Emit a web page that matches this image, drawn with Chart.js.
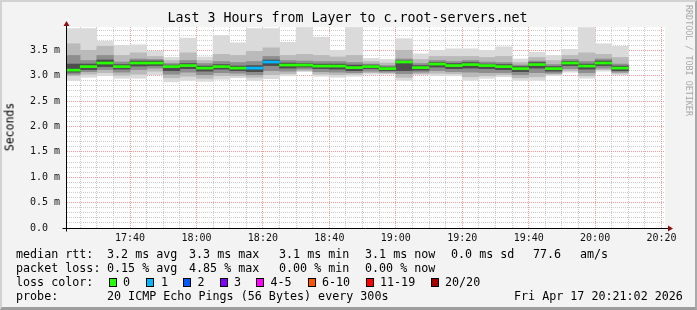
<!DOCTYPE html>
<html>
<head>
<meta charset="utf-8">
<script src="https://cdn.jsdelivr.net/npm/chart.js@4/dist/chart.umd.min.js"></script>
<style>
  html, body { margin: 0; padding: 0; background: #f3f3f3; }
  #frame { position: absolute; left: 0; top: 0; width: 697px; height: 310px; box-sizing: border-box;
           background: #f3f3f3; border-top: 2px solid #d2d2d2; border-left: 2px solid #d2d2d2;
           border-right: 2px solid #a9a9a9; border-bottom: 3px solid #9d9d9d; }
  #c { position: absolute; left: 0; top: 0; }
  .t { position: absolute; font-family: "DejaVu Sans Mono", monospace; color: #000; white-space: pre; }
  .lg { font-size: 11.7px; line-height: 14px; }
  .box { position: absolute; width: 6px; height: 7px; border: 1px solid #000; }
</style>
</head>
<body>
<div id="frame"></div>
<canvas id="c" width="697" height="310"></canvas>

<div class="t" style="left:0;width:695px;top:10px;text-align:center;font-size:13.3px;line-height:16px;">Last 3 Hours from Layer to c.root-servers.net</div>
<div class="t" style="left:10px;top:127px;font-size:11.5px;line-height:13px;transform:translate(-50%,-50%) rotate(-90deg);">Seconds</div>
<div class="t" style="left:684px;top:5px;font-size:8.4px;line-height:9px;color:#a8a8a8;writing-mode:vertical-rl;">RRDTOOL / TOBI OETIKER</div>

<div class="t lg" style="left:16px;top:247px;">median rtt:</div>
<div class="t lg" style="left:107px;top:247px;">3.2 ms avg</div>
<div class="t lg" style="left:189px;top:247px;">3.3 ms max</div>
<div class="t lg" style="left:279px;top:247px;">3.1 ms min</div>
<div class="t lg" style="left:365px;top:247px;">3.1 ms now</div>
<div class="t lg" style="left:451px;top:247px;">0.0 ms sd</div>
<div class="t lg" style="left:533px;top:247px;">77.6</div>
<div class="t lg" style="left:580px;top:247px;">am/s</div>

<div class="t lg" style="left:16px;top:261px;">packet loss:</div>
<div class="t lg" style="left:107px;top:261px;">0.15 % avg</div>
<div class="t lg" style="left:189px;top:261px;">4.85 % max</div>
<div class="t lg" style="left:279px;top:261px;">0.00 % min</div>
<div class="t lg" style="left:365px;top:261px;">0.00 % now</div>

<div class="t lg" style="left:16px;top:275px;">loss color:</div>
<div id="lossLegend"></div>

<div class="t lg" style="left:16px;top:289px;">probe:</div>
<div class="t lg" style="left:107px;top:289px;">20 ICMP Echo Pings (56 Bytes) every 300s</div>
<div class="t lg" style="left:514px;top:289px;">Fri Apr 17 20:21:02 2026</div>

<script>
// ---------- data ----------
const slotEnds = ['17:25','17:30','17:35','17:40','17:45','17:50','17:55',
  '18:00','18:05','18:10','18:15','18:20','18:25','18:30','18:35','18:40','18:45','18:50','18:55',
  '19:00','19:05','19:10','19:15','19:20','19:25','19:30','19:35','19:40','19:45','19:50','19:55',
  '20:00','20:05','20:10'];

// median rtt in ms
const median = [3.11,3.18,3.25,3.18,3.25,3.25,3.18,3.20,3.15,3.18,3.15,3.15,3.27,3.21,3.21,3.19,3.19,
  3.16,3.18,3.14,3.27,3.16,3.23,3.20,3.22,3.20,3.18,3.14,3.22,3.14,3.25,3.19,3.25,3.15];
// lost pings (of 20) per step
const lossCount = [0,0,0,0,0,0,0,0,0,0,0,1,1,0,0,0,0,0,0,0,0,0,0,0,0,0,0,0,0,0,0,0,0,0];

// smoke: sorted ping quantiles (ms)
const pingMax = [3.93,3.93,3.68,3.60,3.61,3.48,3.36,3.74,3.37,3.79,3.65,3.93,3.93,3.66,3.95,3.76,3.50,
  3.95,3.34,3.32,3.73,3.43,3.50,3.53,3.53,3.50,3.57,3.33,3.46,3.40,3.52,3.95,3.63,3.58];
const pingHi2 = [3.63,3.50,3.58,3.40,3.45,3.38,3.30,3.45,3.30,3.42,3.40,3.48,3.55,3.40,3.42,3.40,3.37,
  3.40,3.28,3.25,3.50,3.32,3.38,3.38,3.38,3.36,3.38,3.26,3.36,3.30,3.40,3.45,3.42,3.36];
const pingHi3 = [3.40,3.30,3.40,3.27,3.33,3.32,3.24,3.30,3.24,3.28,3.26,3.28,3.38,3.30,3.29,3.28,3.28,
  3.26,3.23,3.20,3.33,3.24,3.30,3.28,3.30,3.27,3.26,3.21,3.29,3.22,3.32,3.28,3.33,3.23];
const pingHi4 = [3.23,3.23,3.31,3.22,3.29,3.29,3.21,3.24,3.19,3.22,3.19,3.20,3.31,3.25,3.24,3.23,3.23,
  3.21,3.21,3.17,3.29,3.20,3.26,3.24,3.26,3.23,3.22,3.18,3.26,3.18,3.28,3.23,3.29,3.19];
const pingLo4 = [3.07,3.12,3.18,3.13,3.19,3.20,3.10,3.14,3.09,3.13,3.10,3.08,3.20,3.15,3.17,3.14,3.13,
  3.10,3.14,3.10,3.10,3.11,3.17,3.14,3.15,3.14,3.12,3.08,3.15,3.09,3.20,3.13,3.20,3.10];
const pingLo3 = [3.03,3.08,3.12,3.07,3.12,3.15,3.03,3.07,3.02,3.06,3.05,3.02,3.10,3.09,3.13,3.08,3.07,
  3.06,3.09,3.07,3.04,3.07,3.10,3.08,3.07,3.06,3.06,3.02,3.06,3.05,3.14,3.06,3.15,3.07];
const pingLo2 = [3.00,3.03,3.06,3.01,3.03,3.09,2.96,2.99,2.95,3.00,3.00,2.97,3.02,3.04,3.10,3.03,3.02,
  3.03,3.06,3.05,2.97,3.04,3.05,3.04,2.98,3.00,3.02,2.96,2.98,3.03,3.10,3.00,3.12,3.05];
const pingMin = [2.91,2.97,3.00,2.95,2.95,3.02,2.88,2.91,2.89,2.93,2.96,2.91,2.94,3.00,3.08,2.99,2.97,
  2.99,3.03,3.03,2.91,3.02,3.00,3.00,2.91,2.95,2.98,2.91,2.91,3.00,3.07,2.95,3.09,3.02];

const lossLabels = ['0','1','2','3','4-5','6-10','11-19','20/20'];
const lossColors = ['#26ff00','#00b8ff','#0059ff','#7e00ff','#ff00ff','#ff5500','#ff0000','#a10000'];

const xTickLabels = ['17:40','18:00','18:20','18:40','19:00','19:20','19:40','20:00','20:20'];
const yTickLabels = ['0.0  ','0.5 m','1.0 m','1.5 m','2.0 m','2.5 m','3.0 m','3.5 m'];

const rangeStart = '17:21:02';
const rangeEnd = '20:21:02';
const yMaxMs = 3.96;

// ---------- helpers ----------
function toMin(s) { const p = s.split(':').map(Number); return (p[0] - 17) * 60 + p[1] + (p[2] || 0) / 60; }
const xMin = toMin(rangeStart), xMax = toMin(rangeEnd);
const centers = slotEnds.map(s => toMin(s) - 2.5);
function band(lo, hi) { return centers.map((x, i) => ({ x: x, y: [lo[i], hi[i]] })); }
const lineHalf = 0.02;

// loss legend
(function () {
  const boxX = [108.5, 145.5, 182.5, 219.5, 256, 307.5, 365.5, 430.5];
  const txtX = [123, 161, 197.5, 234, 270.5, 322, 380, 445];
  const el = document.getElementById('lossLegend');
  lossLabels.forEach((lab, i) => {
    const b = document.createElement('div');
    b.className = 'box'; b.style.left = boxX[i] + 'px'; b.style.top = '278px'; b.style.background = lossColors[i];
    el.appendChild(b);
    const t = document.createElement('div');
    t.className = 't lg'; t.style.left = txtX[i] + 'px'; t.style.top = '275px'; t.textContent = lab;
    el.appendChild(t);
  });
})();

const mono = { family: '"DejaVu Sans Mono", monospace', size: 10 };
const majorGrid = 'rgba(240,120,120,0.75)';
const minorGrid = 'rgba(170,170,170,0.6)';

const plotBg = {
  id: 'plotBg',
  beforeDraw(chart) {
    const a = chart.chartArea, ctx = chart.ctx;
    ctx.save(); ctx.fillStyle = '#ffffff'; ctx.fillRect(a.left, a.top, a.right - a.left, a.bottom - a.top); ctx.restore();
  }
};
const axes = {
  id: 'axes',
  afterDraw(chart) {
    const a = chart.chartArea, ctx = chart.ctx;
    const xl = Math.round(a.left) - 0.5, yb = Math.round(a.bottom) + 0.5;
    ctx.save();
    ctx.strokeStyle = '#000'; ctx.lineWidth = 1;
    ctx.beginPath(); ctx.moveTo(xl - 4, yb); ctx.lineTo(a.right + 3, yb); ctx.stroke();
    ctx.beginPath(); ctx.moveTo(xl, yb + 3); ctx.lineTo(xl, a.top - 1); ctx.stroke();
    ctx.fillStyle = '#8b1010';
    ctx.beginPath(); ctx.moveTo(xl - 3, a.top - 1); ctx.lineTo(xl + 3, a.top - 1); ctx.lineTo(xl, a.top - 6); ctx.closePath(); ctx.fill();
    ctx.beginPath(); ctx.moveTo(a.right + 3, yb - 3); ctx.lineTo(a.right + 3, yb + 3); ctx.lineTo(a.right + 8, yb); ctx.closePath(); ctx.fill();
    ctx.restore();
  }
};

new Chart(document.getElementById('c'), {
  type: 'bar',
  data: {
    datasets: [
      { label: 'median', data: centers.map((x, i) => ({ x: x, y: [median[i] - lineHalf, median[i] + lineHalf] })),
        backgroundColor: ctx => lossColors[lossCount[ctx.dataIndex] || 0] },
      { label: 'p8-p13', data: band(pingLo4, pingHi4), backgroundColor: '#4d4d4d' },
      { label: 'p6-p15', data: band(pingLo3, pingHi3), backgroundColor: '#8e8e8e' },
      { label: 'p3-p18', data: band(pingLo2, pingHi2), backgroundColor: '#bababa' },
      { label: 'p1-p20', data: band(pingMin, pingMax), backgroundColor: '#dadada' }
    ]
  },
  options: {
    responsive: false,
    animation: false,
    events: [],
    layout: { padding: { top: 27, right: 32, left: 0, bottom: 0 } },
    datasets: { bar: { grouped: false, barPercentage: 1, categoryPercentage: 1, borderWidth: 0, borderSkipped: false } },
    plugins: { legend: { display: false }, tooltip: { enabled: false }, title: { display: false } },
    scales: {
      x: {
        type: 'linear', min: xMin, max: xMax, offset: false, z: 1,
        afterFit: s => { s.height = 82; },
        afterBuildTicks: s => {
          const t = [];
          for (let v = Math.ceil(xMin / 5) * 5; v <= xMax; v += 5) t.push({ value: v });
          s.ticks = t;
        },
        ticks: {
          autoSkip: false, maxRotation: 0, minRotation: 0, padding: 4, color: '#111', font: mono,
          callback: v => (Math.round(v) % 20 === 0 ? (xTickLabels[(Math.round(v) - 40) / 20] || '') : '')
        },
        grid: { offset: false, drawTicks: false, lineWidth: 1,
          color: ctx => (ctx.tick && Math.round(ctx.tick.value) % 20 === 0 ? majorGrid : minorGrid) },
        border: { display: false, dash: [1, 1] }
      },
      y: {
        type: 'linear', min: 0, max: yMaxMs, z: 1,
        afterFit: s => { s.width = 67; },
        ticks: {
          stepSize: 0.1, autoSkip: false, includeBounds: false, padding: 7, color: '#111', font: mono,
          callback: v => { const k = Math.round(v * 10); return k % 5 === 0 ? (yTickLabels[k / 5] || '') : ''; }
        },
        grid: { drawTicks: false, lineWidth: 1,
          color: ctx => (ctx.tick && Math.round(ctx.tick.value * 10) % 5 === 0 ? majorGrid : minorGrid) },
        border: { display: false, dash: [1, 1] }
      }
    }
  },
  plugins: [plotBg, axes]
});
</script>
</body>
</html>
